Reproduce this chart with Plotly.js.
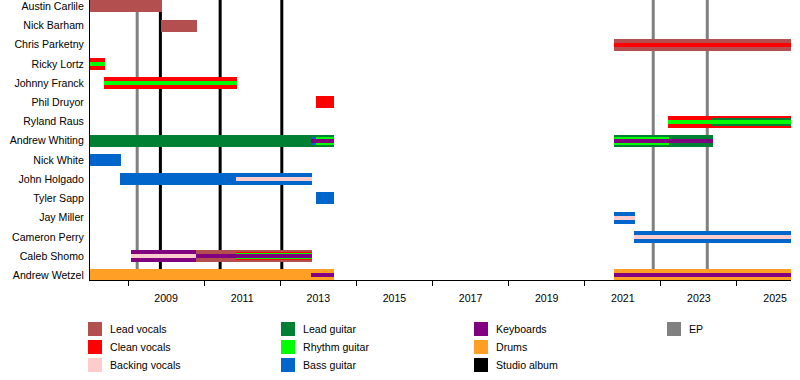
<!DOCTYPE html>
<html>
<head>
<meta charset="utf-8">
<script src="https://cdn.plot.ly/plotly-3.0.1.min.js"></script>
<style>html,body{margin:0;padding:0;background:#fff;}#chart{width:800px;height:380px;}</style>
</head>
<body>
<div id="chart"></div>
<script>
// ---------- DATA ----------
const members = ['Austin Carlile','Nick Barham','Chris Parketny','Ricky Lortz','Johnny Franck','Phil Druyor','Ryland Raus','Andrew Whiting','Nick White','John Holgado','Tyler Sapp','Jay Miller','Cameron Perry','Caleb Shomo','Andrew Wetzel'];
const roles = ['Lead vocals','Clean vocals','Backing vocals','Lead guitar','Rhythm guitar','Bass guitar','Keyboards','Drums'];
const periodStart = 2007.0;
const periodEnd = 2025.42;
const xTickLabels = [2009,2011,2013,2015,2017,2019,2021,2023,2025];
const xMinorTicks = [2008,2010,2012,2014,2016,2018,2020,2022,2024];
const studioAlbums = [2008.85, 2010.42, 2012.04];
const eps = [2008.24, 2021.80, 2023.22];

// main spells [member, role, from, till]
const mainSpells = [
  ['Austin Carlile','Lead vocals',2007.0,2008.89],
  ['Nick Barham','Lead vocals',2008.87,2009.81],
  ['Chris Parketny','Lead vocals',2020.77,periodEnd],
  ['Ricky Lortz','Clean vocals',2007.0,2007.39],
  ['Johnny Franck','Clean vocals',2007.37,2010.86],
  ['Phil Druyor','Clean vocals',2012.94,2013.41],
  ['Ryland Raus','Clean vocals',2022.19,periodEnd],
  ['Andrew Whiting','Lead guitar',2007.0,2013.41],
  ['Andrew Whiting','Lead guitar',2020.77,2023.37],
  ['Nick White','Bass guitar',2007.0,2007.81],
  ['John Holgado','Bass guitar',2007.79,2012.83],
  ['Tyler Sapp','Bass guitar',2012.94,2013.41],
  ['Jay Miller','Bass guitar',2020.77,2021.32],
  ['Cameron Perry','Bass guitar',2021.30,periodEnd],
  ['Caleb Shomo','Keyboards',2008.08,2009.79],
  ['Caleb Shomo','Lead vocals',2009.79,2012.83],
  ['Andrew Wetzel','Drums',2007.0,2013.41],
  ['Andrew Wetzel','Drums',2020.77,periodEnd]
];
// secondary spells (wide stripe)
const secondSpells = [
  ['Ryland Raus','Lead guitar',2023.35,periodEnd],
  ['Andrew Whiting','Rhythm guitar',2012.81,2013.41],
  ['Andrew Whiting','Rhythm guitar',2020.77,2022.22],
  ['Andrew Whiting','Bass guitar',2012.81,2012.94],
  ['Caleb Shomo','Clean vocals',2010.84,2012.83]
];
// third spells (medium stripe)
const thirdSpells = [
  ['Caleb Shomo','Rhythm guitar',2010.84,2012.83]
];
// fourth spells (narrow centre stripe)
const fourthSpells = [
  ['Chris Parketny','Clean vocals',2020.77,periodEnd],
  ['Ricky Lortz','Rhythm guitar',2007.0,2007.39],
  ['Johnny Franck','Rhythm guitar',2007.37,2010.86],
  ['Ryland Raus','Rhythm guitar',2022.19,periodEnd],
  ['Andrew Whiting','Keyboards',2012.81,2013.41],
  ['Andrew Whiting','Keyboards',2020.77,2023.37],
  ['John Holgado','Backing vocals',2010.84,2012.83],
  ['Jay Miller','Backing vocals',2020.77,2021.32],
  ['Cameron Perry','Backing vocals',2021.30,periodEnd],
  ['Caleb Shomo','Backing vocals',2008.08,2009.79],
  ['Caleb Shomo','Keyboards',2009.79,2012.83],
  ['Andrew Wetzel','Keyboards',2012.81,2013.41],
  ['Andrew Wetzel','Keyboards',2020.77,periodEnd]
];
const legendItems = ['Lead vocals','Clean vocals','Backing vocals','Lead guitar','Rhythm guitar','Bass guitar','Keyboards','Drums','Studio album','EP'];

// ---------- STYLE ----------
const colors = {
  'Lead vocals':'#b34f4f','Clean vocals':'#ff0000','Backing vocals':'#ffcccc',
  'Lead guitar':'#008033','Rhythm guitar':'#00ff00','Bass guitar':'#0066cc',
  'Keyboards':'#800080','Drums':'#ff9f26','Studio album':'#000000','EP':'#808080'
};
const FONT = 'Liberation Sans, Arial, sans-serif';
const FS = 10.6;
const plotH = 280, plotL = 90, plotW = 701;
const yMin = -0.25, yMax = 14.33;
const pxPerRow = plotH / (yMax - yMin);
const tierWidths = [12/pxPerRow, 8/pxPerRow, 6.5/pxPerRow, 4/pxPerRow];

function rowOf(name){ return members.length - 1 - members.indexOf(name); }

const traces = [];
[mainSpells, secondSpells, thirdSpells, fourthSpells].forEach((spells, tier) => {
  roles.forEach(role => {
    const s = spells.filter(d => d[1] === role);
    if (!s.length) return;
    traces.push({
      type:'bar', orientation:'h',
      y: s.map(d => rowOf(d[0])),
      base: s.map(d => d[2]),
      x: s.map(d => d[3] - d[2]),
      width: tierWidths[tier],
      marker:{color: colors[role], line:{width:0}},
      name: role, showlegend:false, hoverinfo:'skip'
    });
  });
});

const shapes = [];
studioAlbums.forEach(v => shapes.push({type:'line', xref:'x', yref:'paper', x0:v, x1:v, y0:0, y1:1, layer:'below', line:{color:colors['Studio album'], width:3}}));
eps.forEach(v => shapes.push({type:'line', xref:'x', yref:'paper', x0:v, x1:v, y0:0, y1:1, layer:'below', line:{color:colors['EP'], width:3}}));

const annotations = [];
legendItems.forEach((item, i) => {
  const col = Math.floor(i/3), row = i % 3;
  const sx = 88 + col*193, sy = 329 + row*18;
  shapes.push({type:'rect', xref:'paper', yref:'paper',
    x0:(sx-plotL)/plotW, x1:(sx+14-plotL)/plotW,
    y0:(plotH-(sy+7))/plotH, y1:(plotH-(sy-7))/plotH,
    fillcolor:colors[item], line:{width:0}});
  annotations.push({xref:'paper', yref:'paper', x:(sx+20-plotL)/plotW, y:(plotH-sy)/plotH,
    xanchor:'left', yanchor:'middle', showarrow:false, text:item,
    font:{family:FONT, size:FS, color:'#000'}});
});

const layout = {
  width:800, height:380,
  margin:{l:90, r:9, t:0, b:100},
  paper_bgcolor:'#fff', plot_bgcolor:'#fff',
  barmode:'overlay', bargap:0,
  showlegend:false,
  font:{family:FONT, size:FS, color:'#000'},
  xaxis:{range:[periodStart, periodEnd], tickmode:'array', tickvals:xTickLabels, ticktext:xTickLabels.map(String),
    ticks:'', ticklabelstandoff:8, showgrid:false, zeroline:false, showline:true, linecolor:'#000', linewidth:1,
    minor:{tickmode:'array', tickvals:xMinorTicks, ticks:'outside', ticklen:5, tickcolor:'#000', tickwidth:1, showgrid:false},
    tickfont:{family:FONT, size:FS, color:'#000'}, fixedrange:true},
  yaxis:{range:[yMin, yMax], tickmode:'array', tickvals:members.map(rowOf), ticktext:members,
    ticks:'', ticklabelstandoff:3, showgrid:false, zeroline:false, showline:true, linecolor:'#000', linewidth:1,
    tickfont:{family:FONT, size:FS, color:'#000'}, fixedrange:true},
  shapes:shapes, annotations:annotations
};
Plotly.newPlot('chart', traces, layout, {staticPlot:true, displayModeBar:false});
</script>
</body>
</html>
